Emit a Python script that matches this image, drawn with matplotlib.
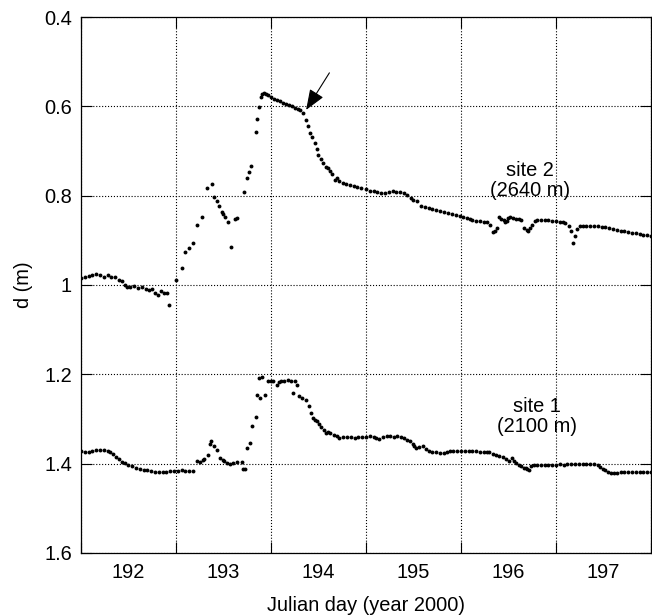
import matplotlib.pyplot as plt
import numpy as np

plt.rcParams['font.family'] = ['Liberation Sans', 'DejaVu Sans']

# site 2 (2640 m): Julian day, depth d (m)
site2_day = [192.00, 192.04, 192.08, 192.12, 192.16, 192.20, 192.24, 192.28, 192.32, 192.36,
             192.40, 192.43, 192.46, 192.48, 192.52, 192.56, 192.60, 192.64, 192.68, 192.72,
             192.75, 192.78, 192.81, 192.84, 192.87, 192.91, 192.93, 193.00, 193.06, 193.10,
             193.14, 193.18, 193.22, 193.27, 193.33, 193.38, 193.40, 193.43, 193.45, 193.48,
             193.50, 193.52, 193.55, 193.58, 193.62, 193.64, 193.72, 193.75, 193.77, 193.79,
             193.84, 193.85, 193.87, 193.89, 193.91, 193.93, 193.95, 193.97, 194.00, 194.03,
             194.06, 194.10, 194.13, 194.16, 194.19, 194.22, 194.25, 194.28, 194.31, 194.34,
             194.37, 194.39, 194.41, 194.43, 194.46, 194.48, 194.50, 194.53, 194.55, 194.58,
             194.60, 194.62, 194.64, 194.67, 194.69, 194.72, 194.76, 194.79, 194.83, 194.87,
             194.91, 194.95, 195.00, 195.04, 195.08, 195.12, 195.16, 195.20, 195.24, 195.28,
             195.32, 195.36, 195.40, 195.43, 195.47, 195.50, 195.54, 195.58, 195.62, 195.66,
             195.70, 195.74, 195.78, 195.82, 195.86, 195.91, 195.95, 195.99, 196.02, 196.06,
             196.09, 196.12, 196.16, 196.20, 196.24, 196.27, 196.31, 196.34, 196.36, 196.38,
             196.40, 196.42, 196.45, 196.46, 196.48, 196.50, 196.52, 196.55, 196.58, 196.61,
             196.63, 196.66, 196.69, 196.71, 196.73, 196.75, 196.78, 196.80, 196.84, 196.88,
             196.92, 196.96, 197.00, 197.04, 197.07, 197.10, 197.14, 197.16, 197.18, 197.20,
             197.22, 197.25, 197.28, 197.32, 197.36, 197.40, 197.44, 197.48, 197.52, 197.56,
             197.60, 197.64, 197.68, 197.72, 197.76, 197.80, 197.84, 197.88, 197.92, 197.96,
             198.00]
site2_d = [0.984, 0.982, 0.980, 0.978, 0.976, 0.978, 0.981, 0.978, 0.983, 0.982,
           0.988, 0.992, 1.000, 1.004, 1.005, 1.003, 1.007, 1.004, 1.009, 1.011,
           1.008, 1.018, 1.022, 1.014, 1.019, 1.017, 1.044, 0.988, 0.962, 0.926,
           0.917, 0.906, 0.866, 0.847, 0.782, 0.774, 0.802, 0.813, 0.823, 0.836,
           0.840, 0.847, 0.860, 0.914, 0.852, 0.851, 0.791, 0.761, 0.746, 0.733,
           0.657, 0.628, 0.602, 0.580, 0.572, 0.570, 0.572, 0.574, 0.578, 0.583,
           0.586, 0.589, 0.592, 0.595, 0.597, 0.600, 0.603, 0.606, 0.609, 0.615,
           0.630, 0.645, 0.660, 0.668, 0.683, 0.695, 0.708, 0.718, 0.727, 0.735,
           0.739, 0.745, 0.751, 0.765, 0.760, 0.768, 0.772, 0.774, 0.777, 0.779,
           0.781, 0.783, 0.785, 0.789, 0.789, 0.792, 0.794, 0.793, 0.792, 0.790,
           0.791, 0.792, 0.793, 0.798, 0.806, 0.810, 0.813, 0.824, 0.826, 0.828,
           0.830, 0.832, 0.835, 0.837, 0.838, 0.841, 0.844, 0.845, 0.847, 0.851,
           0.852, 0.854, 0.856, 0.857, 0.859, 0.860, 0.865, 0.882, 0.878, 0.873,
           0.848, 0.852, 0.854, 0.860, 0.857, 0.850, 0.847, 0.849, 0.852, 0.853,
           0.854, 0.873, 0.877, 0.879, 0.872, 0.865, 0.857, 0.854, 0.854, 0.855,
           0.855, 0.856, 0.857, 0.859, 0.860, 0.862, 0.869, 0.880, 0.905, 0.890,
           0.875, 0.869, 0.867, 0.867, 0.868, 0.868, 0.869, 0.870, 0.871, 0.873,
           0.875, 0.877, 0.878, 0.880, 0.882, 0.883, 0.884, 0.886, 0.888, 0.889,
           0.890]

# site 1 (2100 m)
site1_day = [192.00, 192.04, 192.08, 192.12, 192.16, 192.20, 192.24, 192.28, 192.31, 192.34,
             192.37, 192.40, 192.43, 192.46, 192.50, 192.54, 192.58, 192.62, 192.66, 192.70,
             192.74, 192.78, 192.82, 192.86, 192.90, 192.94, 192.98, 193.02, 193.06, 193.10,
             193.14, 193.18, 193.22, 193.25, 193.28, 193.30, 193.34, 193.36, 193.37, 193.40,
             193.43, 193.46, 193.49, 193.51, 193.54, 193.57, 193.60, 193.64, 193.69, 193.71,
             193.73, 193.75, 193.78, 193.80, 193.84, 193.85, 193.87, 193.88, 193.91, 193.94,
             193.97, 194.00, 194.02, 194.06, 194.08, 194.11, 194.14, 194.18, 194.21, 194.23,
             194.25, 194.27, 194.30, 194.33, 194.37, 194.40, 194.42, 194.44, 194.46, 194.48,
             194.51, 194.53, 194.56, 194.58, 194.60, 194.62, 194.66, 194.69, 194.72, 194.76,
             194.80, 194.84, 194.88, 194.92, 194.96, 195.00, 195.04, 195.08, 195.11, 195.14,
             195.18, 195.22, 195.25, 195.29, 195.33, 195.37, 195.40, 195.43, 195.46, 195.49,
             195.51, 195.53, 195.56, 195.60, 195.63, 195.66, 195.70, 195.74, 195.78, 195.82,
             195.85, 195.88, 195.92, 195.96, 196.00, 196.04, 196.08, 196.12, 196.16, 196.20,
             196.24, 196.27, 196.30, 196.34, 196.37, 196.40, 196.44, 196.47, 196.51, 196.54,
             196.56, 196.58, 196.61, 196.63, 196.66, 196.68, 196.70, 196.72, 196.74, 196.77,
             196.80, 196.84, 196.88, 196.92, 196.96, 197.00, 197.04, 197.08, 197.12, 197.16,
             197.20, 197.24, 197.28, 197.32, 197.36, 197.40, 197.44, 197.46, 197.49, 197.52,
             197.55, 197.58, 197.61, 197.64, 197.68, 197.72, 197.76, 197.80, 197.84, 197.88,
             197.92, 197.96, 198.00]
site1_d = [1.372, 1.374, 1.375, 1.372, 1.370, 1.369, 1.370, 1.371, 1.373, 1.378,
           1.384, 1.390, 1.397, 1.399, 1.402, 1.406, 1.410, 1.412, 1.414, 1.415,
           1.417, 1.418, 1.419, 1.418, 1.418, 1.417, 1.417, 1.416, 1.415, 1.416,
           1.417, 1.417, 1.395, 1.397, 1.392, 1.389, 1.380, 1.355, 1.349, 1.361,
           1.370, 1.387, 1.392, 1.395, 1.399, 1.400, 1.398, 1.397, 1.397, 1.413,
           1.413, 1.365, 1.354, 1.315, 1.296, 1.246, 1.208, 1.253, 1.207, 1.246,
           1.216, 1.215, 1.216, 1.225, 1.218, 1.216, 1.214, 1.212, 1.214, 1.242,
           1.216, 1.225, 1.249, 1.252, 1.257, 1.272, 1.287, 1.298, 1.302, 1.305,
           1.312, 1.317, 1.325, 1.331, 1.330, 1.331, 1.335, 1.337, 1.342, 1.341,
           1.341, 1.341, 1.342, 1.340, 1.340, 1.340, 1.339, 1.340, 1.343, 1.345,
           1.340, 1.339, 1.339, 1.340, 1.339, 1.340, 1.342, 1.346, 1.350, 1.356,
           1.361, 1.364, 1.363, 1.361, 1.367, 1.372, 1.374, 1.375, 1.376, 1.377,
           1.374, 1.372, 1.372, 1.372, 1.372, 1.372, 1.372, 1.372, 1.372, 1.373,
           1.373, 1.374, 1.375, 1.378, 1.380, 1.383, 1.384, 1.390, 1.395, 1.387,
           1.394, 1.398, 1.403, 1.406, 1.409, 1.410, 1.413, 1.415, 1.406, 1.403,
           1.402, 1.402, 1.402, 1.402, 1.402, 1.402, 1.401, 1.402, 1.401, 1.401,
           1.401, 1.401, 1.401, 1.401, 1.400, 1.401, 1.404, 1.408, 1.412, 1.415,
           1.418, 1.420, 1.421, 1.420, 1.419, 1.419, 1.418, 1.418, 1.418, 1.418,
           1.418, 1.418, 1.418]

day_edges = [192, 193, 194, 195, 196, 197, 198]
day_labels = ['192', '193', '194', '195', '196', '197']
d_ticks = [0.4, 0.6, 0.8, 1.0, 1.2, 1.4, 1.6]
d_labels = ['0.4', '0.6', '0.8', '1', '1.2', '1.4', '1.6']

fs = 14.4

fig = plt.figure(figsize=(6.52, 6.16), dpi=100)
ax = fig.add_axes([0.1242, 0.1023, 0.8742, 0.8701])

ax.plot(site2_day, site2_d, 'o', color='k', markersize=2.8, markeredgewidth=0)
ax.plot(site1_day, site1_d, 'o', color='k', markersize=2.8, markeredgewidth=0)

ax.set_xlim(192, 198)
ax.set_ylim(1.6, 0.4)

# grid/ticks at day boundaries, labels at mid-day
ax.set_xticks(day_edges)
ax.set_xticklabels([''] * len(day_edges))
ax.set_xticks([d + 0.5 for d in day_edges[:-1]], minor=True)
ax.set_xticklabels(day_labels, minor=True)
ax.tick_params(axis='x', which='minor', length=0, pad=7)
ax.set_yticks(d_ticks)
ax.set_yticklabels(d_labels)

ax.tick_params(which='major', direction='in', length=8, width=0.8,
               top=True, right=True, labelsize=fs, pad=6.5)
ax.tick_params(which='minor', labelsize=fs)
ax.grid(True, which='major', linestyle=':', color='k', linewidth=0.8)
for s in ax.spines.values():
    s.set_linewidth(0.9)

ax.set_xlabel('Julian day (year 2000)', fontsize=fs, labelpad=10)
ax.set_ylabel('d (m)', fontsize=fs, labelpad=8)

ax.text(196.73, 0.766, 'site 2\n(2640 m)', ha='center', va='center',
        fontsize=fs, linespacing=1.1)
ax.text(196.80, 1.294, 'site 1\n(2100 m)', ha='center', va='center',
        fontsize=fs, linespacing=1.1)

ax.annotate('', xy=(194.37, 0.608), xytext=(194.615, 0.525),
            arrowprops=dict(arrowstyle='-|>,head_length=0.9,head_width=0.35',
                            color='k', lw=0.8, shrinkA=0, shrinkB=0,
                            mutation_scale=14))

fig.savefig('out.png', dpi=100)
